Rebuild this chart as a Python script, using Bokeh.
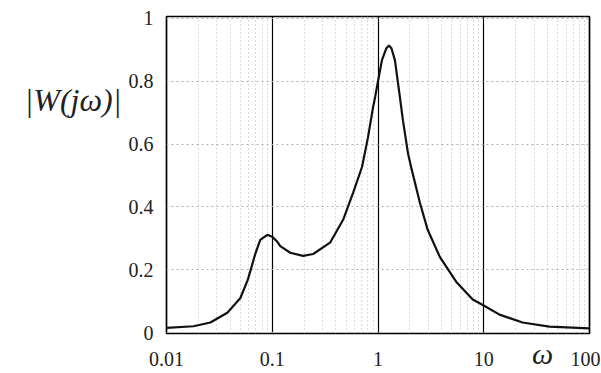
from bokeh.plotting import figure
from bokeh.models import FixedTicker, LogAxis, LinearAxis
from bokeh.embed import file_html
from bokeh.resources import INLINE

# Data (|W(jw)| vs w)
omega = [0.01, 0.018, 0.026, 0.0376, 0.05, 0.059, 0.069, 0.077, 0.09, 0.1,
         0.111, 0.119, 0.148, 0.196, 0.244, 0.352, 0.468, 0.58, 0.706, 0.805,
         0.898, 0.94, 1.0, 1.09, 1.2, 1.27, 1.34, 1.445, 1.61, 1.72, 1.92,
         2.09, 2.49, 2.95, 3.84, 5.56, 7.87, 10.0, 14.1, 23.3, 41.7, 100.0]
magnitude = [0.015, 0.02, 0.032, 0.063, 0.11, 0.17, 0.25, 0.295, 0.311, 0.305,
             0.29, 0.275, 0.254, 0.244, 0.25, 0.286, 0.359, 0.444, 0.527, 0.622,
             0.717, 0.75, 0.80, 0.867, 0.905, 0.914, 0.905, 0.867, 0.75, 0.676, 0.571,
             0.517, 0.413, 0.327, 0.241, 0.159, 0.105, 0.086, 0.057, 0.032, 0.019, 0.013]

x_ticks = [0.01, 0.1, 1, 10, 100]
x_tick_labels = ["0.01", "0.1", "1", "10", "100"]
x_minor = [m * d for d in [0.01, 0.1, 1, 10] for m in range(2, 10)]
y_ticks = [0, 0.2, 0.4, 0.6, 0.8, 1]
y_tick_labels = ["0", "0.2", "0.4", "0.6", "0.8", "1"]

y_title = "|W(jω)|"
y_title_at = 0.74
x_title = "ω"
x_title_at = 36

SERIF = "Liberation Serif"

p = figure(width=600, height=372, x_axis_type="log",
           x_range=(0.01, 100), y_range=(-0.003, 1.006),
           output_backend="svg", toolbar_location=None,
           min_border_left=166, min_border_right=11,
           min_border_top=16, min_border_bottom=39)

p.background_fill_color = "white"
p.border_fill_color = "white"
p.outline_line_color = "black"
p.outline_line_width = 1.7

main_x = p.xaxis[0]
main_y = p.yaxis[0]
main_x.ticker = FixedTicker(ticks=x_ticks, minor_ticks=x_minor)
main_x.major_label_overrides = dict(zip(x_ticks, x_tick_labels))
main_y.ticker = FixedTicker(ticks=y_ticks)
main_y.major_label_overrides = dict(zip(y_ticks, y_tick_labels))

for ax in (main_x, main_y):
    ax.axis_line_color = None
    ax.major_tick_line_color = None
    ax.minor_tick_line_color = None
    ax.major_label_text_font = SERIF
    ax.major_label_text_font_size = "20px"
    ax.major_label_text_color = "#222222"
main_x.major_label_standoff = 12
main_y.major_label_standoff = 7

p.xgrid.ticker = main_x.ticker
p.xgrid.grid_line_color = "black"
p.xgrid.grid_line_width = 1.2
p.xgrid.minor_grid_line_color = "#b5b5b5"
p.xgrid.minor_grid_line_dash = "1 3"
p.ygrid.ticker = main_y.ticker
p.ygrid.grid_line_color = "#b0b0b0"
p.ygrid.grid_line_dash = "2 3"

p.line(omega, magnitude, line_color="#111111", line_width=2.2)

# Axis titles drawn as single-tick extra axes
ytitle_axis = LinearAxis(ticker=FixedTicker(ticks=[y_title_at]),
                         major_label_overrides={y_title_at: y_title},
                         major_label_standoff=-2,
                         axis_line_color=None, major_tick_line_color=None,
                         minor_tick_line_color=None,
                         major_label_text_font=SERIF,
                         major_label_text_font_style="italic",
                         major_label_text_font_size="32px",
                         major_label_text_color="#222222")
p.add_layout(ytitle_axis, "left")

xtitle_axis = LogAxis(ticker=FixedTicker(ticks=[x_title_at]),
                      major_label_overrides={x_title_at: x_title},
                      major_label_standoff=-38,
                      axis_line_color=None, major_tick_line_color=None,
                      minor_tick_line_color=None,
                      major_label_text_font=SERIF,
                      major_label_text_font_style="italic",
                      major_label_text_font_size="30px",
                      major_label_text_color="#222222")
p.below = [main_x, xtitle_axis]

open("out.html", "w").write(file_html(p, INLINE))
